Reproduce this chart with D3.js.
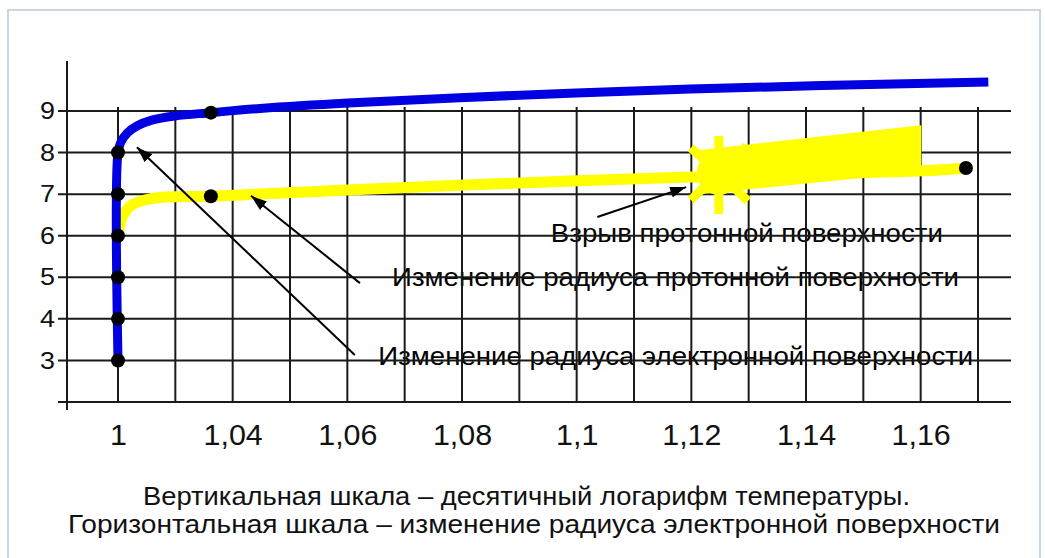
<!DOCTYPE html>
<html><head><meta charset="utf-8">
<script src="https://cdn.jsdelivr.net/npm/d3@7"></script>
<style>
body{margin:0;background:#fff}
svg{display:block;font-family:"Liberation Sans",Arial,Helvetica,sans-serif}
</style>
</head><body>
<svg id="c" width="1045" height="558"></svg>
<script>
// ---------- data ----------
const gridXValues = [1.02,1.03,1.04,1.05,1.06,1.07,1.08,1.09,1.10,1.11,1.12,1.13,1.14,1.15,1.16,1.17];
const xTickValues = [1.02,1.04,1.06,1.08,1.10,1.12,1.14,1.16];
const xTickLabels = ["1","1,04","1,06","1,08","1,1","1,12","1,14","1,16"];
const yTickValues = [3,4,5,6,7,8,9];
const yTickLabels = ["3","4","5","6","7","8","9"];

// electron surface radius (blue)
const electronX = [1.02,1.02,1.0205,1.0216,1.0233,1.0259,1.0299,1.0362,1.0448,1.0601,1.0901,1.1198,1.1718];
const electronY = [3,8,8.25,8.47,8.64,8.78,8.88,8.96,9.06,9.19,9.38,9.53,9.70];
const electronDotsX = [1.02,1.02,1.02,1.02,1.02,1.02,1.0362];
const electronDotsY = [3,4,5,6,7,8,8.96];

// proton surface radius (yellow)
const protonX = [1.02,1.0203,1.021,1.0224,1.0247,1.0282,1.0362,1.0601,1.0901,1.1198,1.1601,1.1679];
const protonY = [6,6.26,6.52,6.74,6.86,6.93,6.95,7.10,7.27,7.41,7.56,7.63];
const protonDotsX = [1.0362,1.1679];
const protonDotsY = [6.95,7.63];

// explosion of proton surface
const burstWedgeX = [1.1215,1.1601,1.1601,1.1215];
const burstWedgeY = [8.06,8.66,7.53,7.00];
const burstCenterX = 1.1248, burstCenterY = 7.51;

const annotationTexts = [
  "Взрыв протонной поверхности",
  "Изменение радиуса протонной поверхности",
  "Изменение радиуса электронной поверхности"
];
const captionLines = [
  "Вертикальная шкала – десятичный логарифм температуры.",
  "Горизонтальная шкала – изменение радиуса электронной поверхности"
];

// ---------- layout ----------
const FONT = '"Liberation Sans", Arial, Helvetica, sans-serif';
const svg = d3.select("#c");
const x = d3.scaleLinear().domain([1.02,1.17]).range([118,978]);
const y = d3.scaleLinear().domain([2,9]).range([402,111]);

// frame
svg.append("rect").attr("x",8).attr("y",10).attr("width",1032).attr("height",560)
  .attr("fill","none").attr("stroke","#c8d5e6").attr("stroke-width",2);

// annotations text (placed in data units), drawn under grid
const annoPos = [
  {x:1.0955, y:5.85, w:392},
  {x:1.0678, y:4.79, w:567},
  {x:1.0654, y:2.89, w:595}
];
svg.append("g").selectAll("text").data(annotationTexts).join("text")
  .attr("x",(d,i)=>x(annoPos[i].x)).attr("y",(d,i)=>y(annoPos[i].y))
  .attr("font-size",25).attr("fill","#000")
  .attr("textLength",(d,i)=>annoPos[i].w).attr("lengthAdjust","spacingAndGlyphs")
  .text(d=>d);

// grid
const axisX = x(1.02) - 51;
const gLeft = axisX - 9, gRight = x(1.17) + 33;
const grid = svg.append("g").attr("stroke","#1a1a1a").attr("stroke-width",2);
grid.selectAll("line.v").data(gridXValues).join("line").attr("class","v")
  .attr("x1",d=>x(d)).attr("x2",d=>x(d)).attr("y1",y(9)-4).attr("y2",y(2));
grid.selectAll("line.h").data(yTickValues.concat([2])).join("line").attr("class","h")
  .attr("x1",gLeft).attr("x2",gRight).attr("y1",d=>y(d)).attr("y2",d=>y(d));
grid.append("line").attr("x1",axisX).attr("x2",axisX).attr("y1",61).attr("y2",y(2)+8);

// axes labels
const yAxis = svg.append("g").attr("transform",`translate(${axisX},0)`)
  .call(d3.axisLeft(y).tickValues(yTickValues).tickFormat((d,i)=>yTickLabels[i]).tickSize(0).tickPadding(12));
yAxis.attr("font-family",FONT).attr("font-size",24);
yAxis.select(".domain").remove();
yAxis.selectAll("text").attr("fill","#111");

const xAxis = svg.append("g").attr("transform",`translate(0,${y(2)})`)
  .call(d3.axisBottom(x).tickValues(xTickValues).tickFormat((d,i)=>xTickLabels[i]).tickSize(0).tickPadding(22));
xAxis.attr("font-family",FONT).attr("font-size",29);
xAxis.select(".domain").remove();
xAxis.selectAll("text").attr("fill","#111");
xAxis.selectAll("text").each(function(){ const w=this.getComputedTextLength(); d3.select(this).attr("textLength",w*1.05).attr("lengthAdjust","spacingAndGlyphs"); });
yAxis.selectAll("text").each(function(){ const w=this.getComputedTextLength(); d3.select(this).attr("textLength",w*1.12).attr("lengthAdjust","spacingAndGlyphs"); });

// lines
const line = d3.line().curve(d3.curveCatmullRom.alpha(0.5));
const YEL = "#ffff00", BLU = "#0000e0";

// proton explosion
const bcx = x(burstCenterX), bcy = y(burstCenterY);
const spikes = svg.append("g").attr("stroke",YEL).attr("stroke-width",9);
[[0,-37],[0,41],[-28,-25],[-28,27],[29,28],[28,-27]].forEach(s=>{
  spikes.append("line").attr("x1",bcx).attr("y1",bcy).attr("x2",bcx+s[0]).attr("y2",bcy+s[1]);
});
svg.append("circle").attr("cx",bcx).attr("cy",bcy).attr("r",22).attr("fill",YEL);
svg.append("path").attr("d",d3.line()(burstWedgeX.map((d,i)=>[x(d),y(burstWedgeY[i])]))+"Z").attr("fill",YEL);

svg.append("path").attr("d",line(protonX.map((d,i)=>[x(d),y(protonY[i])])))
  .attr("fill","none").attr("stroke",YEL).attr("stroke-width",11);
svg.append("path").attr("d",line(electronX.map((d,i)=>[x(d),y(electronY[i])])))
  .attr("fill","none").attr("stroke",BLU).attr("stroke-width",9);

// dots
svg.append("g").selectAll("circle").data(electronDotsX.map((d,i)=>[d,electronDotsY[i]]).concat(protonDotsX.map((d,i)=>[d,protonDotsY[i]])))
  .join("circle").attr("cx",d=>x(d[0])).attr("cy",d=>y(d[1])).attr("r",7).attr("fill","#000");

// arrows
const defs = svg.append("defs");
defs.append("marker").attr("id","ah").attr("markerUnits","userSpaceOnUse")
  .attr("markerWidth",17).attr("markerHeight",11).attr("refX",16).attr("refY",5.5).attr("orient","auto")
  .append("path").attr("d","M0,0 L16,5.5 L0,11 Z").attr("fill","#000");
const arrows = [
  {x1:1.1036,y1:6.45,x2:1.1191,y2:7.17},
  {x1:1.0622,y1:4.86,x2:1.0432,y2:6.96},
  {x1:1.0613,y1:3.13,x2:1.0233,y2:8.13}
];
svg.append("g").selectAll("line").data(arrows).join("line")
  .attr("x1",d=>x(d.x1)).attr("y1",d=>y(d.y1)).attr("x2",d=>x(d.x2)).attr("y2",d=>y(d.y2))
  .attr("stroke","#000").attr("stroke-width",2).attr("marker-end","url(#ah)");

// caption
const capPos = [{x:143,y:505,w:767},{x:68,y:533,w:932}];
svg.append("g").selectAll("text").data(captionLines).join("text")
  .attr("x",(d,i)=>capPos[i].x).attr("y",(d,i)=>capPos[i].y)
  .attr("font-size",25).attr("fill","#111")
  .attr("textLength",(d,i)=>capPos[i].w).attr("lengthAdjust","spacingAndGlyphs")
  .text(d=>d);
</script>
</body></html>
